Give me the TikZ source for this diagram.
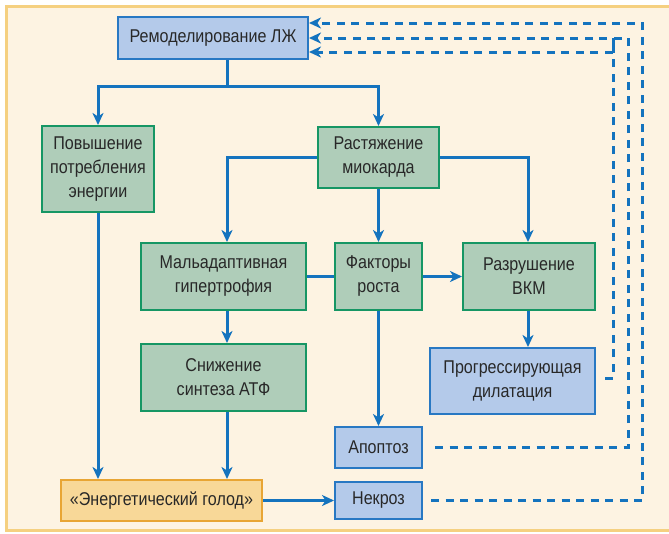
\documentclass[tikz,border=0pt]{standalone}
\usepackage{fontspec}
\usepackage{tikz}
\usepackage{xcolor}
\usetikzlibrary{arrows.meta}

\newfontfamily\boxfont{Liberation Sans}[FakeStretch=0.87]

\definecolor{paper}{RGB}{253,243,226}
\definecolor{paperline}{RGB}{245,208,128}
\definecolor{arrowblue}{RGB}{20,115,190}
\definecolor{bluefill}{RGB}{180,202,234}
\definecolor{blueline}{RGB}{40,120,195}
\definecolor{greenfill}{RGB}{175,205,185}
\definecolor{greenline}{RGB}{22,150,100}
\definecolor{orangefill}{RGB}{248,216,152}
\definecolor{orangeline}{RGB}{232,165,52}
\definecolor{textgray}{RGB}{40,40,40}

\tikzset{
    box/.style={draw, line width=2pt, align=center, inner sep=0pt,
        text=textgray, font=\boxfont\fontsize{18.5}{24}\selectfont},
    bluebox/.style={box, fill=bluefill, draw=blueline},
    greenbox/.style={box, fill=greenfill, draw=greenline},
    orangebox/.style={box, fill=orangefill, draw=orangeline},
    feedback/.style={dashed, dash pattern=on 8pt off 6.5pt}
}

\begin{document}
\begin{tikzpicture}[x=1pt, y=-1pt, line width=3pt, draw=arrowblue,
        >={Stealth[length=12pt, width=11pt, inset=3.5pt]}]
        \useasboundingbox (0,0) rectangle (669,533);
        \draw[line width=3pt, draw=paperline, fill=paper] (6,6) rectangle (690,530);

        % Nodes
        \node[bluebox, minimum width=190pt, minimum height=42pt] (remod) at (213,38) {Ремоделирование ЛЖ};
        \node[greenbox, minimum width=112pt, minimum height=86pt] (energy) at (98,169) {Повышение\\потребления\\энергии};
        \node[greenbox, minimum width=121pt, minimum height=61pt] (stretch) at (378.5,157.5) {Растяжение\\миокарда};
        \node[greenbox, minimum width=165pt, minimum height=67pt] (malad) at (223.5,276.5) {Мальадаптивная\\гипертрофия};
        \node[greenbox, minimum width=87pt, minimum height=67pt] (growth) at (378.5,276.5) {Факторы\\роста};
        \node[greenbox, minimum width=132pt, minimum height=67pt] (ecm) at (529,276.5) {Разрушение\\ВКМ};
        \node[greenbox, minimum width=165pt, minimum height=67pt] (atp) at (223.5,377.5) {Снижение\\синтеза АТФ};
        \node[bluebox, minimum width=165pt, minimum height=66pt] (dilat) at (512.5,381) {Прогрессирующая\\дилатация};
        \node[bluebox, minimum width=87pt, minimum height=41pt] (apopt) at (378.5,447.5) {Апоптоз};
        \node[bluebox, minimum width=87pt, minimum height=37pt] (necro) at (378.5,500.5) {Некроз};
        \node[orangebox, minimum width=201pt, minimum height=41pt] (hunger) at (161.5,500.5) {«Энергетический голод»};

        \coordinate (spine) at (227,0);
        \coordinate (fork) at (227,86);
        \coordinate (busA) at (613,0);
        \coordinate (busB) at (628,0);
        \coordinate (busC) at (642,0);

        % Arrows
        \draw (remod.south -| spine) -- (fork);
        \draw[->] (fork) -| (energy.north);
        \draw[->] (fork) -| (stretch.north);
        \draw[->] (stretch.west) -| (malad.north -| spine);
        \draw[->] (stretch.east) -| ([xshift=-1pt]ecm.north);
        \draw[->] (stretch.south) -- (growth.north);
        \draw (malad.east) -- (growth.west);
        \draw[->] (growth.east) -- (ecm.west);
        \draw[->] (growth.south) -- (apopt.north);
        \draw[->] (malad.south -| spine) -- (atp.north -| spine);
        \draw[->] (atp.south -| spine) -- (hunger.north -| spine);
        \draw[->] (energy.south) -- (energy.south |- hunger.north);
        \draw[->] (hunger.east) -- (necro.west);
        \draw[->] ([xshift=-1pt]ecm.south) -- ([xshift=-1pt]dilat.north -| ecm.south);

        % Feedback loops
        \draw[feedback, ->] ([yshift=3pt]dilat.east) ++(9,0) -| (busA |- remod.east) |- ([yshift=-14pt]remod.east);
        \draw[feedback, ->] ([xshift=12pt]apopt.east) -| (busB |- remod.east) |- (remod.east);
        \draw[feedback, ->] ([xshift=8pt]necro.east) -| (busC |- remod.east) |- ([yshift=15pt]remod.east);
\end{tikzpicture}
\end{document}
